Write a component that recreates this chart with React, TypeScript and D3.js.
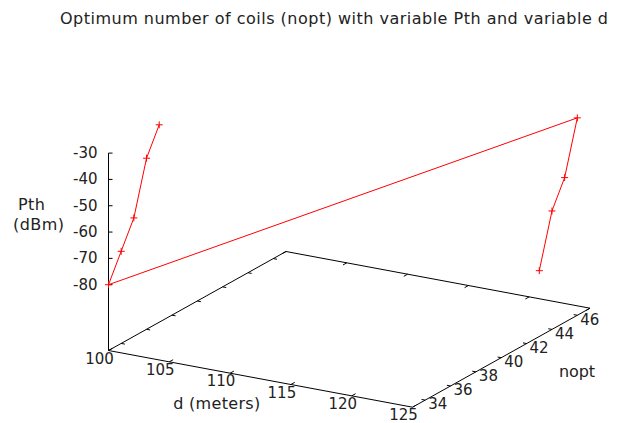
import React from 'react';
import * as d3 from 'd3';

// data: one polyline, d=100 then d=125
const dValues = [100, 100, 100, 100, 100, 125, 125, 125, 125];
const pthValues = [-30, -40, -60, -70, -80, -30, -50, -60, -80];
const noptValues = [37, 36, 35, 34, 33, 46, 45, 44, 43];

const dTicks = [100, 105, 110, 115, 120, 125];
const noptTicks = [34, 36, 38, 40, 42, 44, 46];
const pthTicks = [-80, -70, -60, -50, -40, -30];

const width = 633;
const height = 423;
const font = '"DejaVu Sans", sans-serif';

// 3D box -> screen: base corner (d=100, nopt=33) sits at origin
const origin = [108.5, 350.5];
const dVec = [304, 56.7];
const nVec = [177.5, -99];

const dScale = d3.scaleLinear().domain([100, 125]).range([0, 1]);
const nScale = d3.scaleLinear().domain([33, 47]).range([0, 1]);
// ticslevel 0.5 -> base plane at -105
const zScale = d3.scaleLinear().domain([-105, -30]).range([0, -197.4]);

const project = (d: number, n: number, p: number): [number, number] => {
    const a = dScale(d);
    const b = nScale(n);
    return [
        origin[0] + a * dVec[0] + b * nVec[0],
        origin[1] + a * dVec[1] + b * nVec[1] + zScale(p)
    ];
};

const Label = ({ x, y, len, size = 15, anchor = 'middle', children }: any) => (
    <text x={x} y={y} textAnchor={anchor} dominantBaseline="central"
        textLength={len} lengthAdjust={len ? 'spacing' : undefined}
        style={{ font: `${size}px ${font}` }} fill="#222">{children}</text>
);

const App = () => {
    const base = -105;
    const corners = [
        project(100, 33, base),
        project(125, 33, base),
        project(125, 47, base),
        project(100, 47, base)
    ];
    const line = d3.line<[number, number]>();
    const boxPath = line([...corners, corners[0]]);

    const pts = dValues.map((d, i) => project(d, noptValues[i], pthValues[i]));
    const dataPath = line(pts);

    const zAxisTop = project(100, 33, -30);

    return (
        <svg width={width} height={height} style={{ position: 'absolute', left: 0, top: 0, background: '#fff' }}>
            <Label x={334} y={18} len={548} size={16}>
                Optimum number of coils (nopt) with variable Pth and variable d
            </Label>

            {/* base box */}
            <path d={boxPath || ''} fill="none" stroke="#000" strokeWidth={1} />

            {/* d ticks: front edge and mirrored on back edge */}
            {dTicks.map(t => {
                const f = project(t, 33, base);
                const f2 = project(t, 33.3, base);
                const b = project(t, 47, base);
                const b2 = project(t, 46.7, base);
                return (
                    <g key={'d' + t}>
                        <line x1={f[0]} y1={f[1]} x2={f2[0]} y2={f2[1]} stroke="#000" />
                        <line x1={b[0]} y1={b[1]} x2={b2[0]} y2={b2[1]} stroke="#000" />
                        <Label x={f[0] - 9} y={f[1] + 8}>{t}</Label>
                    </g>
                );
            })}

            {/* nopt ticks: right edge and mirrored on left edge */}
            {noptTicks.map(t => {
                const f = project(125, t, base);
                const f2 = project(124.7, t, base);
                const b = project(100, t, base);
                const b2 = project(100.3, t, base);
                return (
                    <g key={'n' + t}>
                        <line x1={f[0]} y1={f[1]} x2={f2[0]} y2={f2[1]} stroke="#000" />
                        <line x1={b[0]} y1={b[1]} x2={b2[0]} y2={b2[1]} stroke="#000" />
                        <Label x={f[0] + 12.5} y={f[1] + 4.3}>{t}</Label>
                    </g>
                );
            })}

            {/* z axis */}
            <line x1={origin[0]} y1={origin[1]} x2={zAxisTop[0]} y2={zAxisTop[1]} stroke="#000" />
            {pthTicks.map(t => {
                const p = project(100, 33, t);
                return (
                    <g key={'z' + t}>
                        <line x1={p[0]} y1={p[1]} x2={p[0] + 4} y2={p[1]} stroke="#000" />
                        <Label x={97.5} y={p[1]} anchor="end">{t}</Label>
                    </g>
                );
            })}

            {/* axis titles */}
            <Label x={31.5} y={204} len={27} size={16}>Pth</Label>
            <Label x={38.5} y={224} len={51} size={16}>(dBm)</Label>
            <Label x={216.7} y={403.3} len={87} size={16}>d (meters)</Label>
            <Label x={577} y={371.7} len={36} size={16}>nopt</Label>

            {/* data */}
            <path d={dataPath || ''} fill="none" stroke="#ff0000" strokeWidth={1} />
            {pts.map((p, i) => (
                <path key={i} d={`M${p[0] - 3.5},${p[1]}h7M${p[0]},${p[1] - 3.5}v7`}
                    stroke="#ff0000" strokeWidth={1} fill="none" />
            ))}
        </svg>
    );
};

export default App;
